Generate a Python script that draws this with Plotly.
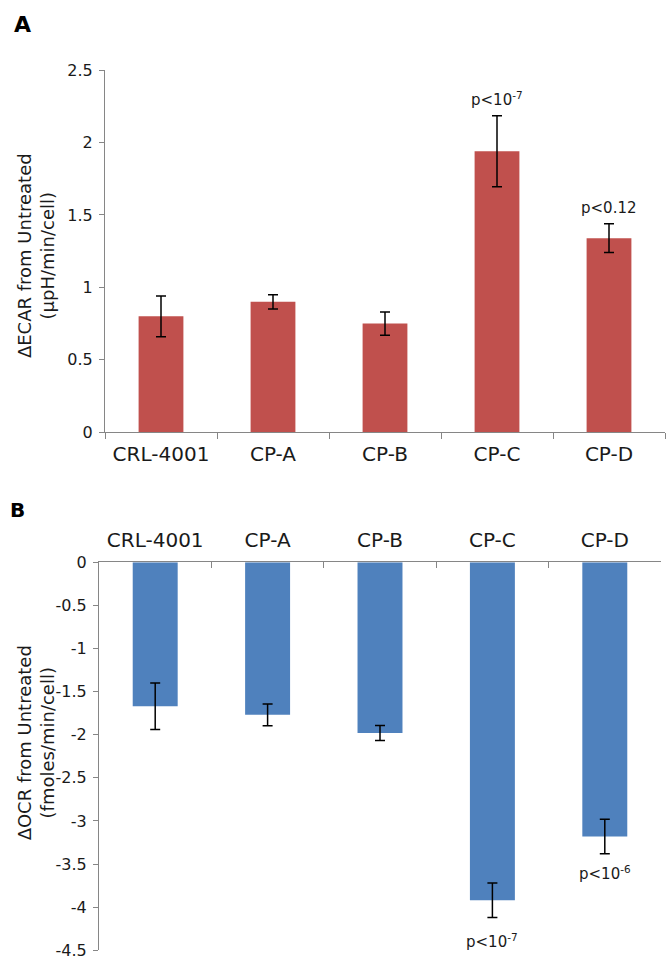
import plotly.graph_objects as go

categories = ["CRL-4001", "CP-A", "CP-B", "CP-C", "CP-D"]

ecar_values = [0.80, 0.90, 0.75, 1.94, 1.34]
ecar_errors = [0.14, 0.05, 0.08, 0.245, 0.10]

ocr_values = [-1.67, -1.77, -1.98, -3.92, -3.18]
ocr_errors = [0.27, 0.125, 0.087, 0.20, 0.20]

ecar_tickvals = [0, 0.5, 1, 1.5, 2, 2.5]
ecar_ticktext = ["0", "0.5", "1", "1.5", "2", "2.5"]
ocr_tickvals = [0, -0.5, -1, -1.5, -2, -2.5, -3, -3.5, -4, -4.5]
ocr_ticktext = ["0", "-0.5", "-1", "-1.5", "-2", "-2.5", "-3", "-3.5", "-4", "-4.5"]

# p-value labels: (category, y position, text)
ecar_pvals = [("CP-C", 2.30, "p<10<sup>-7</sup>"), ("CP-D", 1.55, "p<0.12")]
ocr_pvals = [("CP-C", -4.39, "p<10<sup>-7</sup>"), ("CP-D", -3.61, "p<10<sup>-6</sup>")]

RED = "#C0504D"
BLUE = "#4F81BD"
AXIS = "#868686"
FONT = "DejaVu Sans"
TXT = "#1a1a1a"
W, H = 672, 972

fig = go.Figure()

fig.add_trace(go.Bar(
    x=categories, y=ecar_values, marker=dict(color=RED, line=dict(width=0)),
    error_y=dict(type="data", array=ecar_errors, visible=True, color="black",
                 thickness=1.5, width=5),
    xaxis="x", yaxis="y", showlegend=False,
))
fig.add_trace(go.Bar(
    x=categories, y=ocr_values, marker=dict(color=BLUE, line=dict(width=0)),
    error_y=dict(type="data", array=ocr_errors, visible=True, color="black",
                 thickness=1.5, width=5),
    xaxis="x2", yaxis="y2", showlegend=False,
))

def px_x(p):
    return p / W

def px_y(p):
    return 1 - p / H

common_x = dict(type="category", showline=True, linecolor=AXIS, linewidth=1,
                showgrid=False, zeroline=False, tickson="boundaries",
                tickcolor=AXIS, ticklen=6, tickwidth=1,
                tickfont=dict(family=FONT, size=20, color=TXT))
common_y = dict(showline=True, linecolor=AXIS, linewidth=1, showgrid=False,
                zeroline=False, ticks="outside", tickcolor=AXIS, ticklen=5,
                tickwidth=1, tickfont=dict(family=FONT, size=16, color=TXT))

fig.update_layout(
    width=W, height=H,
    margin=dict(l=0, r=0, t=0, b=0),
    paper_bgcolor="white", plot_bgcolor="white",
    bargap=0.6,
    font=dict(family=FONT),
    xaxis=dict(domain=[px_x(105), px_x(665)], anchor="y", ticks="outside",
               ticklabelstandoff=4, **common_x),
    yaxis=dict(domain=[px_y(431.7), px_y(62.3)], anchor="x", range=[0, 2.5],
               tickvals=ecar_tickvals, ticktext=ecar_ticktext,
               ticklabelstandoff=3, **common_y),
    xaxis2=dict(domain=[px_x(99), px_x(661)], anchor="y2", side="top",
                ticks="inside", ticklabelstandoff=6, **common_x),
    yaxis2=dict(domain=[px_y(960), px_y(564.3)], anchor="x2", range=[-4.5, 0],
                tickvals=ocr_tickvals, ticktext=ocr_ticktext,
                ticklabelstandoff=3, **common_y),
)

annotations = []
for cat, yv, txt in ecar_pvals:
    annotations.append(dict(x=cat, y=yv, xref="x", yref="y", text=txt,
                            showarrow=False, font=dict(family=FONT, size=15, color=TXT)))
for cat, yv, txt in ocr_pvals:
    annotations.append(dict(x=cat, y=yv, xref="x2", yref="y2", text=txt,
                            showarrow=False, font=dict(family=FONT, size=15, color=TXT)))

# Y-axis titles
annotations.append(dict(x=px_x(36), y=px_y(252), xref="paper", yref="paper",
                        text="ΔECAR from Untreated<br>(μpH/min/cell)", textangle=-90,
                        showarrow=False, xanchor="center", yanchor="middle",
                        font=dict(family=FONT, size=18, color=TXT)))
annotations.append(dict(x=px_x(36), y=px_y(749), xref="paper", yref="paper",
                        text="ΔOCR from Untreated<br>(fmoles/min/cell)", textangle=-90,
                        showarrow=False, xanchor="center", yanchor="middle",
                        font=dict(family=FONT, size=18, color=TXT)))
# Panel letters
annotations.append(dict(x=px_x(22), y=px_y(16), xref="paper", yref="paper", text="<b>A</b>",
                        showarrow=False, xanchor="center", yanchor="middle",
                        font=dict(family=FONT, size=22, color="black")))
annotations.append(dict(x=px_x(17), y=px_y(511), xref="paper", yref="paper", text="<b>B</b>",
                        showarrow=False, xanchor="center", yanchor="middle",
                        font=dict(family=FONT, size=20, color="black")))

fig.update_layout(annotations=annotations)

fig.write_html("out.html", config={"displayModeBar": False},
               post_script="document.body.style.margin='0px';")
